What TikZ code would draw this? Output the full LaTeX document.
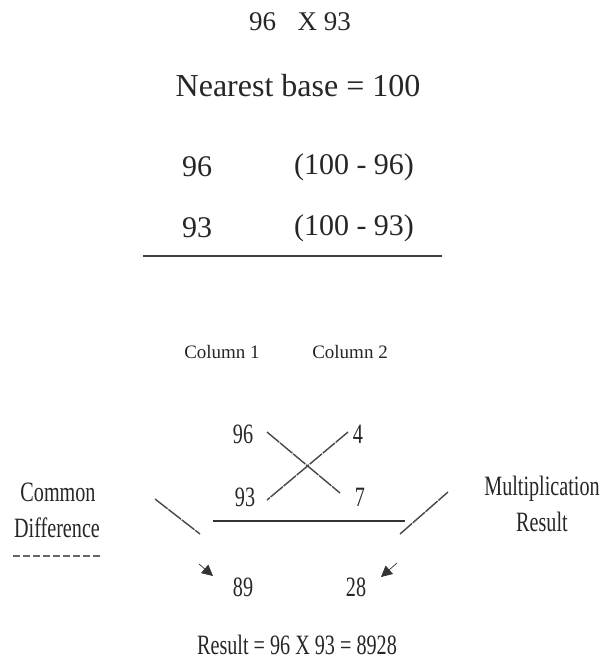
\documentclass[tikz,border=0pt]{standalone}
\usepackage{fontspec}
\setmainfont{Liberation Serif}
\newfontfamily\condfont[FakeStretch=0.72]{Liberation Serif}
\usetikzlibrary{arrows.meta}
\begin{document}
\begin{tikzpicture}[x=1pt,y=-1pt,
  txt/.style={inner sep=0pt, text=black!85},
  big/.style={txt, font=\fontsize{30}{34}\selectfont},
  cnd/.style={txt, font=\condfont\fontsize{28}{32}\selectfont},
  col/.style={txt, font=\fontsize{19}{22}\selectfont},
  ln/.style={draw=black!72, line width=1.4pt, dash pattern=on 16pt off 1pt},
  arr/.style={draw=black!80, line width=0.7pt, -{Triangle[length=11pt,width=11pt]}}]
\useasboundingbox (0,0) rectangle (610,664);
% top part
\node[txt, font=\fontsize{27}{30}\selectfont] (title) at (300,22) {96\hspace{0.8em}X 93};
\node[txt, font=\fontsize{32}{36}\selectfont] (base) at (298,86) {Nearest base = 100};
\node[big] (a1) at (197,167) {96};
\node[big] (b1) at (354,167) {(100 - 96)};
\node[big] (a2) at (197,228) {93};
\node[big] (b2) at (354,228) {(100 - 93)};
\coordinate (r1) at (143,256);
\coordinate (r2) at (442,256);
\draw[line width=2.5pt, black!75] (r1) -- (r2);
% column labels
\node[col] (c1) at (222,352) {Column 1};
\node[col] (c2) at (350,352) {Column 2};
% lower numbers
\node[cnd] (n96) at (243,434) {96};
\node[cnd] (n4) at (358,434) {4};
\node[cnd] (n93) at (245,497) {93};
\node[cnd] (n7) at (360,497) {7};
\node[cnd] (n89) at (243,587) {89};
\node[cnd] (n28) at (356,587) {28};
% cross
\coordinate (x1) at (267,432);
\coordinate (x2) at (340,493);
\coordinate (x3) at (348,432);
\coordinate (x4) at (267,500);
\draw[ln] (x1) -- (x2);
\draw[ln] (x3) -- (x4);
% horizontal line
\coordinate (h1) at (213,521);
\coordinate (h2) at (405,521);
\draw[line width=2pt, black!80] (h1) -- (h2);
% side diagonals
\coordinate (l1) at (155,499);
\coordinate (l2) at (200,534);
\coordinate (g1) at (400,534);
\coordinate (g2) at (448,492);
\draw[ln] (l1) -- (l2);
\draw[ln] (g1) -- (g2);
% arrows
\coordinate (la) at (199,564);
\coordinate (lb) at (213,576);
\coordinate (ra) at (397,563);
\coordinate (rb) at (381,577);
\draw[arr] (la) -- (lb);
\draw[arr] (ra) -- (rb);
% side labels
\node[cnd] (common) at (58,492) {Common};
\node[cnd] (diff) at (57,528) {Difference};
\coordinate (d1) at (13,556);
\coordinate (d2) at (100,556);
\draw[black!60, line width=1.2pt, dash pattern=on 7pt off 3pt] (d1) -- (d2);
\node[cnd] (mult) at (542,489) {Multiplication};
\node[cnd] (res) at (542,522) {Result};
% result
\node[cnd] (final) at (297,645) {Result = 96 X 93 = 8928};
\end{tikzpicture}
\end{document}
